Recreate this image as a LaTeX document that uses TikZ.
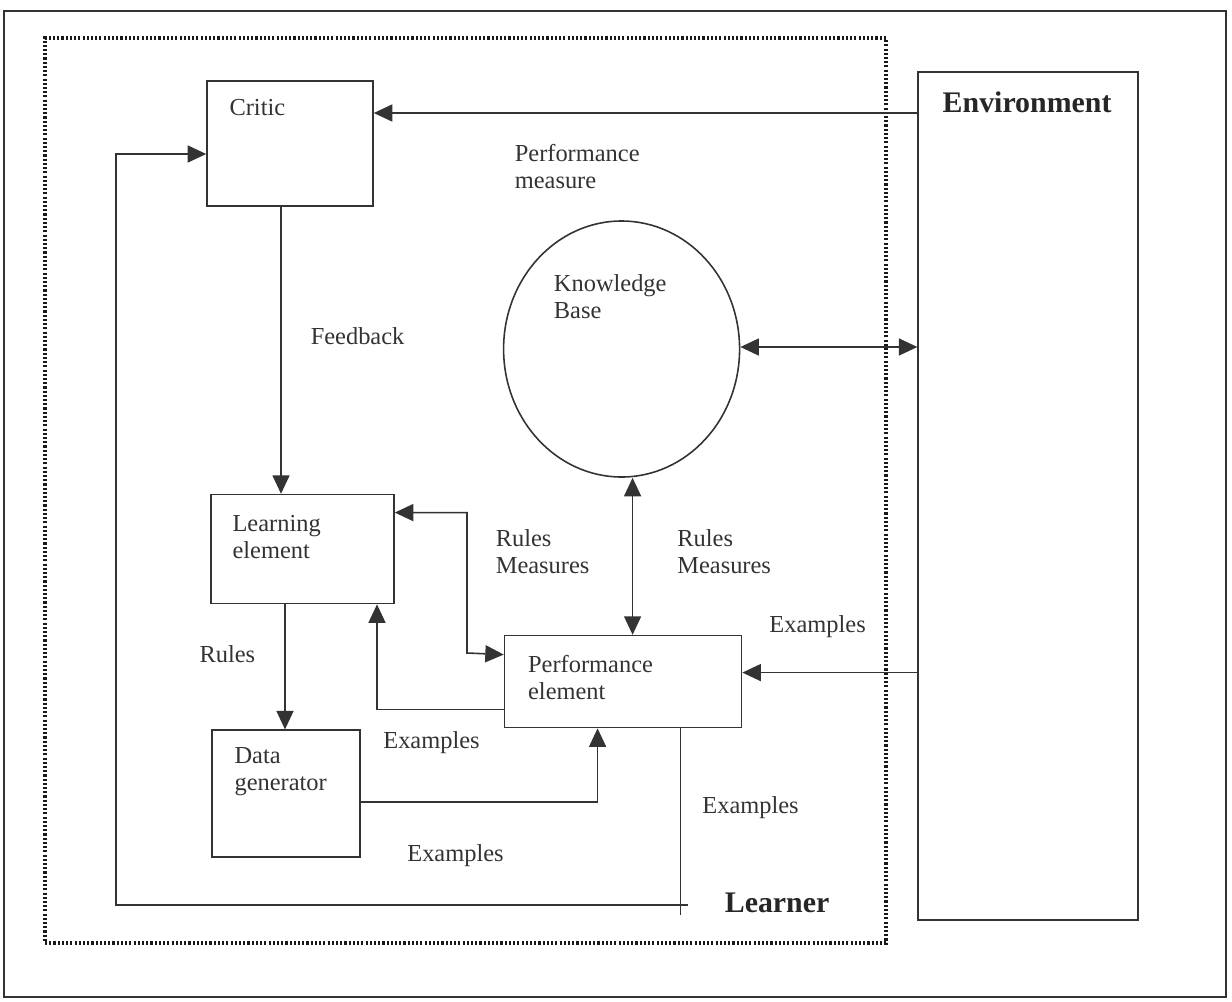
\documentclass[tikz,border=0pt]{standalone}
\usepackage{fontspec}
\setmainfont{Liberation Serif}
\usetikzlibrary{shapes.geometric, arrows.meta, positioning}

\definecolor{ink}{gray}{0.2}

\begin{document}
\begin{tikzpicture}[
    >={Triangle[length=0.37cm, width=0.34cm]},
    block/.style={rectangle, draw=ink, line width=0.9pt, inner sep=0pt},
    store/.style={ellipse, draw=ink, line width=0.9pt, inner sep=0pt, minimum width=4.72cm, minimum height=5.12cm},
    tag/.style={anchor=west, align=left, inner sep=0pt, text=ink, font=\fontsize{13.9}{15.4}\selectfont},
    title/.style={tag, text=black!85, font=\fontsize{17}{19}\selectfont\bfseries},
    line/.style={->, draw=ink, line width=0.9pt},
    dline/.style={<->, draw=ink, line width=0.9pt}
]
\useasboundingbox (0,0) rectangle (24.64,-20.02);

% 1. frame and learner region
\draw[ink, line width=1pt] (0.08,-0.22) rectangle (24.52,-19.94);
\node[block, draw=black!90, line width=1.8pt, dash pattern=on 1.2pt off 1.2pt, minimum width=16.82cm, minimum height=18.1cm] (learner) at (9.31,-9.81) {};

% 2. blocks
\node[block, minimum width=3.32cm, minimum height=2.5cm] (critic) at (5.8,-2.87) {};
\node[block, minimum width=3.66cm, minimum height=2.18cm, below=5.74cm of critic, xshift=0.25cm] (learn) {};
\node[block, minimum width=2.96cm, minimum height=2.54cm, below=2.5cm of learn, xshift=-0.33cm] (datagen) {};
\node[block, minimum width=4.74cm, minimum height=1.84cm, right=2.18cm of learn, yshift=-2.65cm] (perf) {};
\node[store, above=3.14cm of perf, xshift=-0.03cm] (kb) {};
\node[block, minimum width=4.4cm, minimum height=16.96cm, right=3.54cm of kb, yshift=-2.94cm] (env) {};

% 3. texts
\node[tag] (critic-t) at ([shift={(0.46,-0.54)}]critic.north west) {Critic};
\node[tag] (learn-t) at ([shift={(0.44,-0.87)}]learn.north west) {Learning\\element};
\node[tag] (datagen-t) at ([shift={(0.46,-0.84)}]datagen.north west) {Data\\generator};
\node[tag] (perf-t) at ([shift={(0.48,-0.85)}]perf.north west) {Performance\\element};
\node[tag] (kb-t) at ([shift={(-1.36,-1.53)}]kb.north) {Knowledge\\Base};
\node[title] (env-t) at ([shift={(0.5,-0.62)}]env.north west) {Environment};
\node[title, anchor=center] (learner-t) at ([shift={(-2.21,0.84)}]learner.south east) {Learner};

% 4. connectors
\coordinate (corner) at (2.32,-18.1);
\coordinate (bend) at (9.34,-13.06);

\draw[line] ([yshift=0.61cm]critic.east -| env.west) -- node[tag, pos=0.742, yshift=-1.07cm] {Performance\\measure} ([yshift=0.61cm]critic.east);
\draw[line] ([xshift=-0.18cm]critic.south) -- node[tag, pos=0.45, xshift=0.58cm] {Feedback} ([xshift=-0.18cm]critic.south |- learn.north);
\draw[line] ([xshift=1.15cm]perf.south) -- node[tag, pos=0.45, xshift=0.42cm] {Examples} ([xshift=1.15cm]perf.south |- corner) -- (corner) |- ([yshift=-0.21cm]critic.west);
\draw[ink, line width=0.9pt] ([xshift=1.15cm]perf.south |- corner) ++(0.15,0) -- ++(-0.15,0) -- ++(0,-0.2);

\draw[dline] ([yshift=0.04cm]kb.east) -- ([yshift=0.04cm]kb.east -| env.west);
\draw[dline] ([xshift=0.22cm]kb.south) -- node[tag, pos=0.47, xshift=0.88cm] {Rules\\Measures} ([xshift=0.22cm]kb.south |- perf.north);
\draw[dline] ([yshift=0.73cm]learn.east) -| node[tag, pos=0.64, xshift=0.56cm] {Rules\\Measures} (bend) -- ([yshift=0.54cm]perf.west);

\draw[line] ([yshift=-0.56cm]perf.west) -| node[tag, anchor=center, pos=0.285, yshift=-0.66cm] {Examples} ([xshift=1.49cm]learn.south);
\draw[line] ([xshift=-0.35cm]learn.south) -- node[tag, anchor=east, pos=0.4, xshift=-0.58cm] {Rules} ([xshift=-0.35cm]learn.south |- datagen.north);
\draw[line] ([yshift=-0.17cm]datagen.east) -| node[tag, anchor=center, pos=0.2, yshift=-1.06cm] {Examples} ([xshift=-0.51cm]perf.south);
\draw[line] ([yshift=0.18cm]perf.east -| env.west) -- node[tag, anchor=center, pos=0.57, yshift=0.92cm] {Examples} ([yshift=0.18cm]perf.east);

\end{tikzpicture}
\end{document}
